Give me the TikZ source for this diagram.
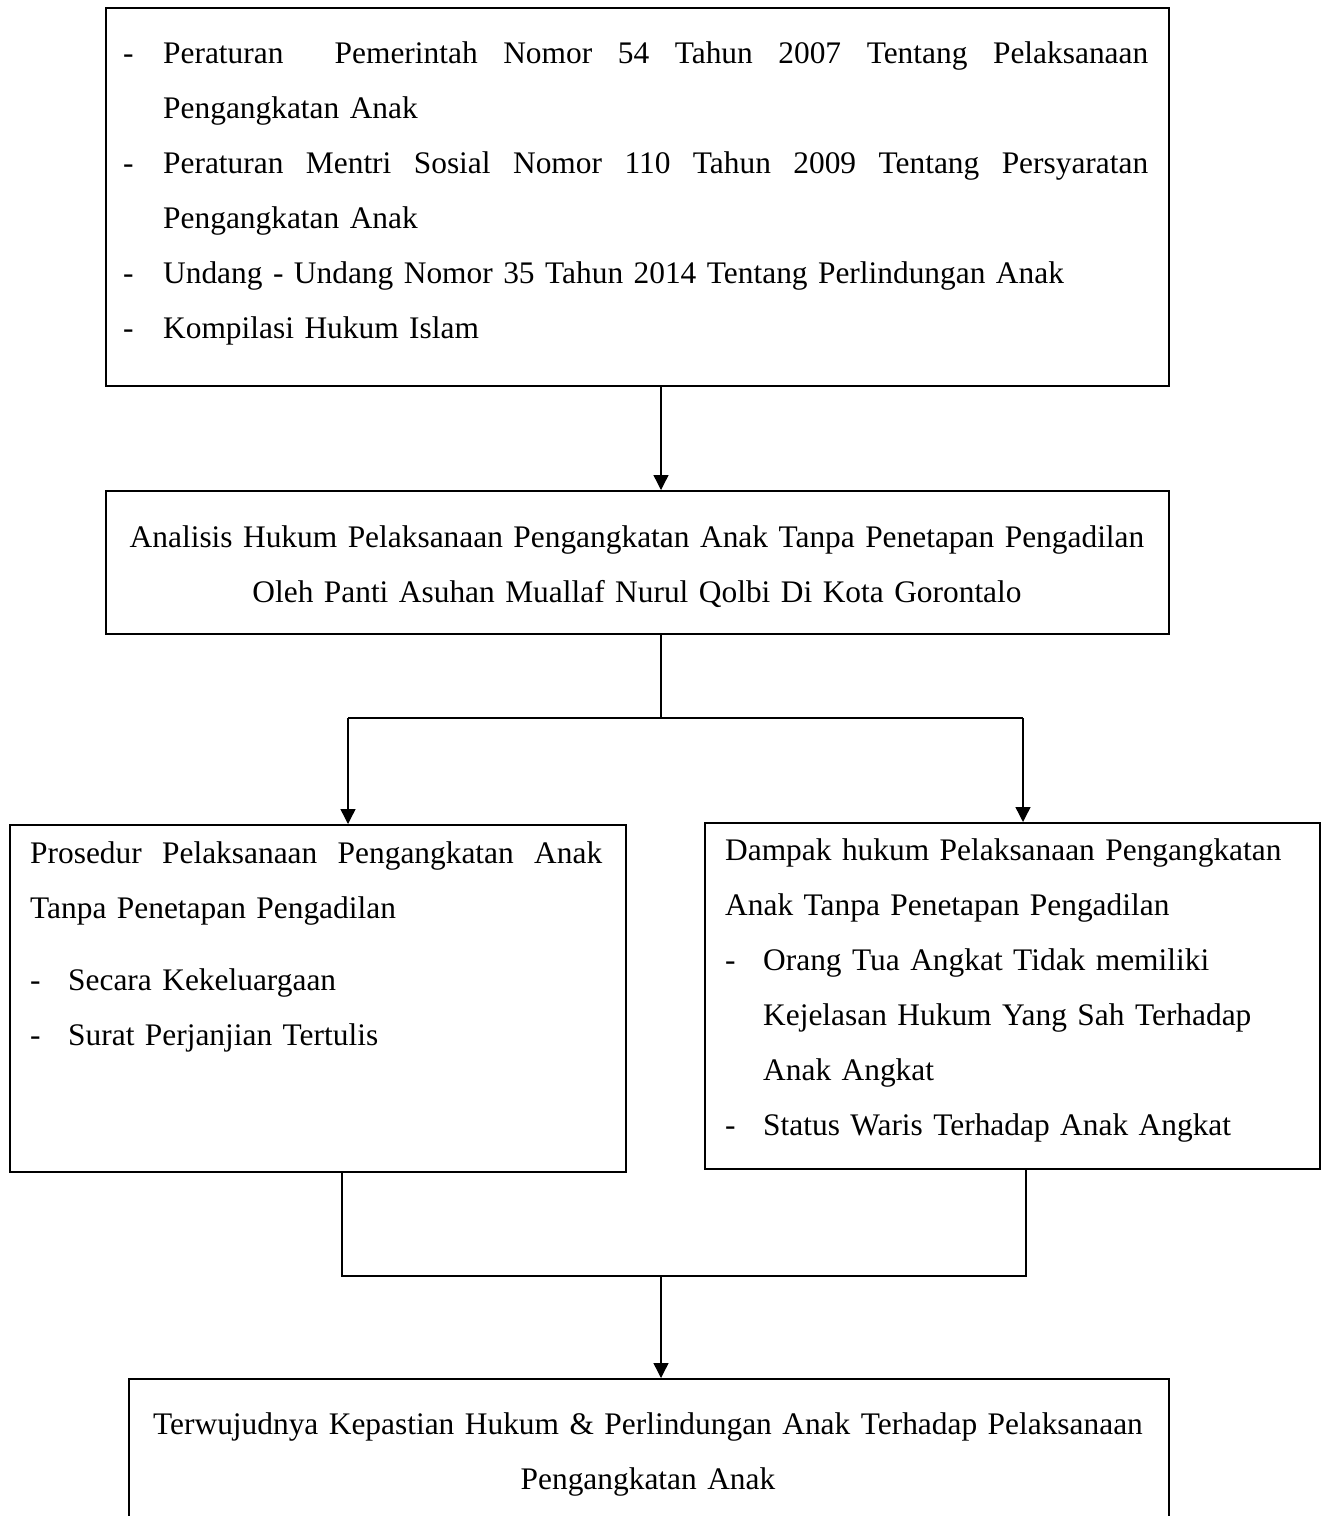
\documentclass[tikz,border=0pt]{standalone}
\usepackage{fontspec}
\setmainfont{Liberation Serif}
\usetikzlibrary{arrows.meta}
\newcommand\fstrut{\rule{0pt}{35pt}}
\newcommand\jsp{\hfill}
\begin{document}
\begin{tikzpicture}[x=1pt,y=-1pt,
  box/.style={draw=black, line width=1.6pt, inner sep=0pt, anchor=north west},
  txt/.style={inner sep=0pt, anchor=north west, font=\fontsize{31.4pt}{55pt}\selectfont},
  conn/.style={line width=1.4pt},
  arr/.style={conn, -{Triangle[length=15pt,width=15pt]}}]
\useasboundingbox (0,0) rectangle (1326,1516);
\clip (0,0) rectangle (1326,1516);
\fill[white] (0,0) rectangle (1326,1516);

% boxes
\node[box, minimum width=1063pt, minimum height=378pt] (src) at (105,7) {};
\node[box, minimum width=1063pt, minimum height=143pt] (ana) at (105,490) {};
\node[box, minimum width=616pt, minimum height=347pt] (pro) at (9,824) {};
\node[box, minimum width=615pt, minimum height=346pt] (dam) at (704,822) {};
\node[box, minimum width=1040pt, minimum height=200pt] (res) at (128,1378) {};

% texts
\node[txt, text width=1040pt, align=left] (srct) at (123,28) {%
\fstrut\makebox[40pt][l]{-}\hbox to 985pt{Peraturan\jsp\jsp Pemerintah\jsp Nomor\jsp 54\jsp Tahun\jsp 2007\jsp Tentang\jsp Pelaksanaan}\\
\hspace*{40pt}Pengangkatan Anak\\
\makebox[40pt][l]{-}\hbox to 985pt{Peraturan\jsp Mentri\jsp Sosial\jsp Nomor\jsp 110\jsp Tahun\jsp 2009\jsp Tentang\jsp Persyaratan}\\
\hspace*{40pt}Pengangkatan Anak\\
\makebox[40pt][l]{-}Undang - Undang Nomor 35 Tahun 2014 Tentang Perlindungan Anak\\
\makebox[40pt][l]{-}Kompilasi Hukum Islam};

\node[txt, text width=1040pt, align=center, anchor=north] (anat) at (637,512) {%
\fstrut Analisis Hukum Pelaksanaan Pengangkatan Anak Tanpa Penetapan Pengadilan\\
Oleh Panti Asuhan Muallaf Nurul Qolbi Di Kota Gorontalo};

\node[txt, text width=600pt, align=left] (prot) at (30,828) {%
\fstrut\hbox to 572pt{Prosedur\jsp Pelaksanaan\jsp Pengangkatan\jsp Anak}\\
Tanpa Penetapan Pengadilan\\[17pt]
\makebox[38pt][l]{-}Secara Kekeluargaan\\
\makebox[38pt][l]{-}Surat Perjanjian Tertulis};

\node[txt, text width=590pt, align=left] (damt) at (725,825) {%
\fstrut Dampak hukum Pelaksanaan Pengangkatan\\
Anak Tanpa Penetapan Pengadilan\\
\makebox[38pt][l]{-}Orang Tua Angkat Tidak memiliki\\
\hspace*{38pt}Kejelasan Hukum Yang Sah Terhadap\\
\hspace*{38pt}Anak Angkat\\
\makebox[38pt][l]{-}Status Waris Terhadap Anak Angkat};

\node[txt, text width=1040pt, align=center, anchor=north] (rest) at (648,1399) {%
\fstrut Terwujudnya Kepastian Hukum \& Perlindungan Anak Terhadap Pelaksanaan\\
Pengangkatan Anak};

% connectors
\coordinate (spine) at (661,0);
\coordinate (jl) at (348,718);
\coordinate (jr) at (1023,718);
\coordinate (jm) at (661,718);
\coordinate (kl) at (342,1276);
\coordinate (kr) at (1026,1276);
\coordinate (km) at (661,1276);

\draw[arr] (src.south -| spine) -- (ana.north -| spine);
\draw[conn] (ana.south -| spine) -- (jm);
\draw[conn] (jl) -- (jr);
\draw[arr] (jl) -- (pro.north -| jl);
\draw[arr] (jr) -- (dam.north -| jr);
\draw[conn] (pro.south -| kl) -- (kl) -- (kr) -- (dam.south -| kr);
\draw[arr] (km) -- (res.north -| km);
\end{tikzpicture}
\end{document}
